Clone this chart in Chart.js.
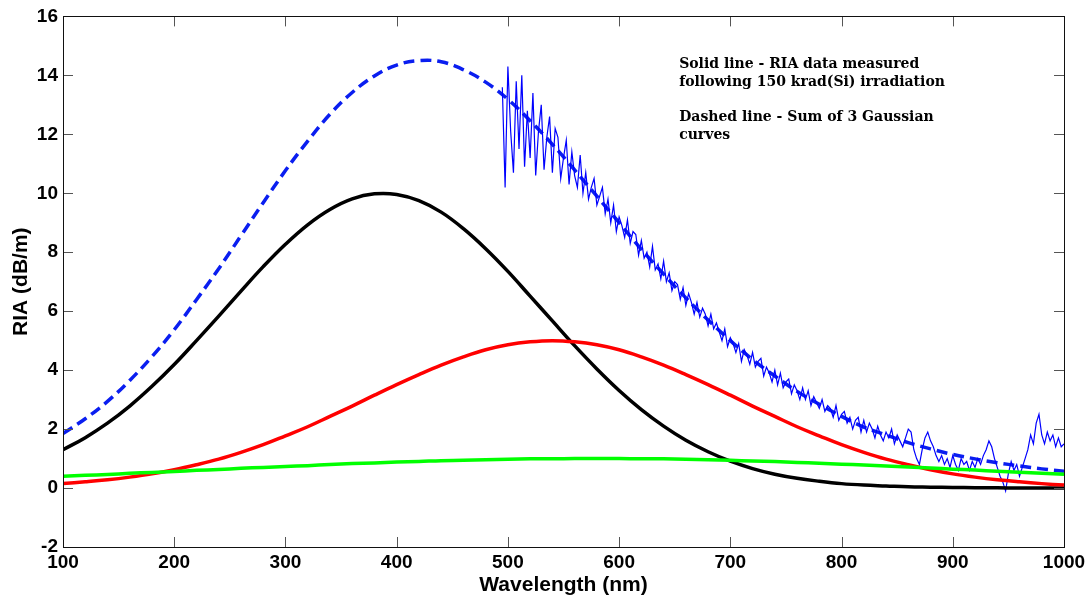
<!DOCTYPE html>
<html><head><meta charset="utf-8">
<script src="https://cdn.jsdelivr.net/npm/chart.js@4/dist/chart.umd.min.js"></script>
<style>html,body{margin:0;padding:0;background:#fff;}#wrap{width:1091px;height:599px;}</style>
</head><body><div id="wrap"><canvas id="c" width="1091" height="599"></canvas></div>
<script>
// Wavelength grid of the fitted Gaussian curves (nm)
const fitWavelength = [100,120,140,160,180,200,220,240,260,280,300,320,340,360,380,400,420,440,460,480,500,520,540,560,580,600,620,640,660,680,700,720,740,760,780,800,820,840,860,880,900,920,940,960,980,1000];
// Gaussian 1 (black)
const gaussBlack = [1.30,1.71,2.20,2.78,3.45,4.19,5.00,5.83,6.68,7.51,8.27,8.93,9.45,9.81,9.98,9.96,9.75,9.36,8.80,8.12,7.35,6.51,5.67,4.83,4.04,3.31,2.66,2.10,1.62,1.23,0.91,0.66,0.47,0.33,0.23,0.15,0.10,0.07,0.04,0.03,0.02,0.01,0.01,0.00,0.00,0.00];
// Gaussian 2 (red)
const gaussRed = [0.15,0.21,0.28,0.37,0.48,0.62,0.79,0.98,1.21,1.47,1.77,2.08,2.43,2.78,3.15,3.51,3.85,4.17,4.45,4.69,4.86,4.96,5.00,4.96,4.86,4.69,4.45,4.17,3.85,3.51,3.15,2.78,2.43,2.08,1.77,1.47,1.21,0.98,0.79,0.62,0.48,0.37,0.28,0.21,0.15,0.10];
// Gaussian 3 (green)
const gaussGreen = [0.40,0.43,0.46,0.50,0.53,0.56,0.60,0.63,0.67,0.70,0.73,0.76,0.80,0.83,0.85,0.88,0.90,0.93,0.94,0.96,0.98,0.99,0.99,1.00,1.00,1.00,0.99,0.99,0.98,0.96,0.94,0.92,0.90,0.87,0.84,0.81,0.78,0.75,0.71,0.68,0.64,0.61,0.57,0.54,0.50,0.47];
// Sum of the 3 Gaussians (blue dashed)
const gaussSum = [1.85,2.35,2.94,3.65,4.46,5.37,6.39,7.44,8.56,9.68,10.77,11.77,12.68,13.42,13.98,14.35,14.50,14.46,14.19,13.77,13.19,12.46,11.66,10.79,9.90,9.00,8.10,7.26,6.45,5.70,5.00,4.36,3.80,3.28,2.84,2.43,2.07,1.80,1.54,1.33,1.14,0.99,0.86,0.75,0.65,0.57];
// Measured RIA (blue solid), sampled every 2.5 nm from 495 nm to 1000 nm
const measStart = 495, measStep = 2.5;
const measRIA = [
13.6,10.2,14.3,12.1,10.7,13.8,11.5,14.0,10.9,12.8,
11.2,13.4,10.6,12.1,13.0,10.8,11.9,12.6,10.7,12.2,
11.9,10.5,11.2,11.8,10.3,11.4,10.6,10.2,11.3,10.0,
10.7,9.8,10.2,10.5,9.6,9.9,10.2,9.3,9.8,9.0,
9.6,8.7,9.2,8.9,8.5,9.1,8.3,8.7,8.6,7.9,
8.4,7.8,8.0,7.5,8.2,7.4,7.6,7.1,7.7,7.0,
7.3,6.7,7.0,6.9,6.4,6.8,6.2,6.6,6.3,5.9,
6.3,5.8,6.1,5.9,5.5,5.9,5.4,5.6,5.3,5.0,
5.4,4.8,5.1,4.9,4.6,4.9,4.3,4.7,4.5,4.2,
4.6,4.1,4.3,4.4,3.8,4.1,3.9,3.6,4.0,3.5,
3.9,3.4,3.6,3.7,3.2,3.5,3.3,3.0,3.4,3.0,
3.3,2.8,3.1,2.9,2.7,3.0,2.6,2.8,2.7,2.4,
2.8,2.3,2.5,2.6,2.2,2.4,2.0,2.3,2.4,1.9,
2.3,1.9,2.2,2.0,1.7,2.1,1.8,1.6,1.9,1.7,
2.0,1.5,1.8,1.6,1.4,1.7,2.0,1.9,1.3,1.0,
0.8,1.3,1.7,1.9,1.6,1.4,1.1,0.9,1.1,0.8,
1.0,0.7,1.1,0.8,0.6,1.0,0.8,0.9,0.6,0.9,
0.7,1.0,0.8,1.1,1.3,1.6,1.4,1.0,0.7,0.4,
0.2,-0.1,0.5,0.9,0.6,0.8,0.4,0.7,1.0,1.3,
1.8,1.5,2.2,2.5,1.8,1.5,1.9,1.6,1.8,1.4,
1.7,1.4,1.5];
// Axis ticks
const xTickValues = [100,200,300,400,500,600,700,800,900,1000];
const yTickValues = [-2,0,2,4,6,8,10,12,14,16];
// Annotation text and its anchor in data units (wavelength, RIA)
const noteText = ["Solid line - RIA data measured","following 150 krad(Si) irradiation","Dashed line - Sum of 3 Gaussian","curves"];
const noteX = [654,654,654,654];
const noteY = [14.24,13.65,12.45,11.85];

const pts = (xs, ys) => ys.map((v,i)=>({x:xs[i], y:v}));
const measX = measRIA.map((_,i)=>measStart + i*measStep);

const framePlugin = {
  id:'frame',
  afterDraw(chart){
    const {ctx, chartArea:a, scales:{x, y}} = chart;
    ctx.save();
    ctx.strokeStyle = '#555'; ctx.lineWidth = 1;
    ctx.beginPath();
    xTickValues.forEach(v=>{
      const p = Math.round(x.getPixelForValue(v))+0.5;
      ctx.moveTo(p, a.bottom); ctx.lineTo(p, a.bottom-10);
      ctx.moveTo(p, a.top); ctx.lineTo(p, a.top+10);
    });
    yTickValues.forEach(v=>{
      const p = Math.round(y.getPixelForValue(v))+0.5;
      ctx.moveTo(a.left, p); ctx.lineTo(a.left+10, p);
      ctx.moveTo(a.right, p); ctx.lineTo(a.right-10, p);
    });
    ctx.stroke();
    ctx.strokeStyle = '#111';
    ctx.strokeRect(Math.round(a.left)+0.5, Math.round(a.top)+0.5, Math.round(a.right-a.left), Math.round(a.bottom-a.top));
    ctx.fillStyle = '#000';
    ctx.font = 'bold 14px "DejaVu Serif", "Liberation Serif", serif';
    ctx.textBaseline = 'alphabetic'; ctx.textAlign = 'left';
    noteText.forEach((t,i)=>{
      ctx.fillText(t, x.getPixelForValue(noteX[i]), y.getPixelForValue(noteY[i]));
    });
    ctx.restore();
  }
};

const tickFont = {family:'"Liberation Sans", Arial, sans-serif', size:19, weight:'bold'};
const titleFont = {family:'"Liberation Sans", Arial, sans-serif', size:21, weight:'bold'};

new Chart(document.getElementById('c'), {
  type:'line',
  data:{datasets:[
    {label:'Gaussian 3', data:pts(fitWavelength,gaussGreen), borderColor:'#00ff00', borderWidth:3.5, pointRadius:0, tension:0.4},
    {label:'Gaussian 2', data:pts(fitWavelength,gaussRed), borderColor:'#ff0000', borderWidth:3.5, pointRadius:0, tension:0.4},
    {label:'Gaussian 1', data:pts(fitWavelength,gaussBlack), borderColor:'#000000', borderWidth:3.5, pointRadius:0, tension:0.4},
    {label:'Measured RIA', data:pts(measX,measRIA), borderColor:'#0000ff', borderWidth:1.2, pointRadius:0, tension:0},
    {label:'Sum of 3 Gaussians', data:pts(fitWavelength,gaussSum), borderColor:'#0a1ef0', borderWidth:3.5, borderDash:[11,6], pointRadius:0, tension:0.4}
  ]},
  options:{
    responsive:false, animation:false, devicePixelRatio:1,
    layout:{padding:{top:15,right:27,left:0,bottom:0}},
    plugins:{legend:{display:false}, tooltip:{enabled:false}},
    scales:{
      x:{type:'linear', min:100, max:1000,
        ticks:{stepSize:100, color:'#000', font:tickFont, padding:4, maxRotation:0, autoSkip:false, callback:v=>String(v)},
        grid:{display:false, drawTicks:false}, border:{display:false},
        title:{display:true, text:'Wavelength (nm)', color:'#000', font:titleFont, padding:{top:0,bottom:1}},
        afterFit(s){ s.height = 52; }
      },
      y:{type:'linear', min:-2, max:16,
        ticks:{stepSize:2, color:'#000', font:tickFont, padding:5, callback:v=>String(v)},
        grid:{display:false, drawTicks:false}, border:{display:false},
        title:{display:true, text:'RIA (dB/m)', color:'#000', font:titleFont, padding:{top:9,bottom:0}},
        afterFit(s){ s.width = 63; }
      }
    }
  },
  plugins:[framePlugin]
});
</script></body></html>
